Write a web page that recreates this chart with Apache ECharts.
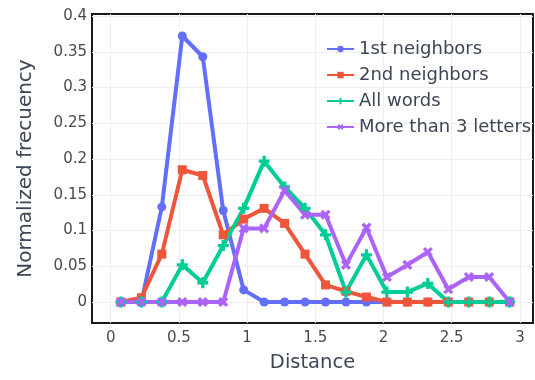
<!DOCTYPE html>
<html>
<head>
<meta charset="utf-8">
<script src="https://cdn.jsdelivr.net/npm/echarts@6/dist/echarts.min.js"></script>
<style>
  html, body { margin: 0; padding: 0; background: #fff; }
  #chart { width: 535px; height: 380px; }
</style>
</head>
<body>
<div id="chart"></div>
<script>
// Bin centres along the distance axis
const distance = [0.075, 0.225, 0.375, 0.525, 0.675, 0.825, 0.975, 1.125, 1.275, 1.425,
                  1.575, 1.725, 1.875, 2.025, 2.175, 2.325, 2.475, 2.625, 2.775, 2.925];

// Normalized frequency per bin
const firstNeighbors  = [0, 0, 0.133, 0.372, 0.343, 0.128, 0.017, 0, 0, 0,
                         0, 0, 0, 0, 0, 0, 0, 0, 0, 0];
const secondNeighbors = [0, 0.006, 0.067, 0.185, 0.177, 0.094, 0.116, 0.131, 0.110, 0.067,
                         0.024, 0.015, 0.007, 0, 0, 0, 0, 0, 0, 0];
const allWords        = [0, 0, 0, 0.052, 0.027, 0.079, 0.131, 0.197, 0.161, 0.131,
                         0.094, 0.014, 0.066, 0.014, 0.014, 0.026, 0, 0, 0, 0];
const moreThan3       = [0, 0, 0, 0, 0, 0, 0.103, 0.103, 0.156, 0.122,
                         0.122, 0.052, 0.104, 0.035, 0.052, 0.070, 0.018, 0.035, 0.035, 0];

const seriesNames = ['1st neighbors', '2nd neighbors', 'All words', 'More than 3 letters'];

// Axis tick labels
const xTicks = [0, 0.5, 1, 1.5, 2, 2.5, 3];
const yTicks = [0, 0.05, 0.1, 0.15, 0.2, 0.25, 0.3, 0.35, 0.4];

const plusPath = 'path://M3.5,0H6.5V3.5H10V6.5H6.5V10H3.5V6.5H0V3.5H3.5Z';

function pairs(values) {
  return values.map((v, i) => [distance[i], v]);
}

function lineSeries(name, values, color, symbol, size, rotate) {
  return {
    name: name,
    type: 'line',
    data: pairs(values),
    symbol: symbol,
    symbolSize: size,
    symbolRotate: rotate || 0,
    showAllSymbol: true,
    lineStyle: { width: 4, color: color },
    itemStyle: { color: color, borderWidth: 0 },
    emphasis: { disabled: true },
    animation: false
  };
}

const textColor = '#3c4656';
const tickColor = '#4a4a4a';
const fontFamily = 'DejaVu Sans, Verdana, sans-serif';

const chart = echarts.init(document.getElementById('chart'), null, { renderer: 'canvas' });
chart.setOption({
  backgroundColor: '#ffffff',
  animation: false,
  grid: {
    left: 92, top: 14, width: 441, height: 309,
    show: true, borderColor: '#1a1a1a', borderWidth: 2, backgroundColor: 'transparent'
  },
  legend: {
    data: seriesNames,
    orient: 'vertical',
    left: 326, top: 40,
    padding: 0,
    itemWidth: 27, itemHeight: 8, itemGap: 8,
    textStyle: { fontSize: 18, color: textColor, fontFamily: fontFamily, lineHeight: 18 }
  },
  xAxis: {
    type: 'value',
    min: -0.137, max: 3.096,
    name: 'Distance',
    nameLocation: 'middle',
    nameGap: 30,
    nameTextStyle: { fontSize: 19.5, color: textColor, fontFamily: fontFamily },
    axisLine: { show: false },
    axisTick: { show: false, customValues: xTicks },
    axisLabel: {
      customValues: xTicks,
      margin: 8,
      fontSize: 15, color: tickColor, fontFamily: fontFamily,
      formatter: v => String(v)
    },
    splitLine: { show: true, lineStyle: { color: '#eceef3', width: 1 } }
  },
  yAxis: {
    type: 'value',
    min: -0.0293, max: 0.4028,
    name: 'Normalized frecuency',
    nameLocation: 'middle',
    nameGap: 56,
    nameTextStyle: { fontSize: 20, color: textColor, fontFamily: fontFamily },
    axisLine: { show: false },
    axisTick: { show: false, customValues: yTicks },
    axisLabel: {
      customValues: yTicks,
      margin: 5,
      fontSize: 15, color: tickColor, fontFamily: fontFamily,
      formatter: v => String(+v.toFixed(2))
    },
    splitLine: { show: true, lineStyle: { color: '#eceef3', width: 1 } }
  },
  series: [
    lineSeries(seriesNames[0], firstNeighbors, '#636efa', 'circle', 9),
    lineSeries(seriesNames[1], secondNeighbors, '#ef553b', 'rect', 9),
    lineSeries(seriesNames[2], allWords, '#00cc96', plusPath, 11),
    lineSeries(seriesNames[3], moreThan3, '#ab63fa', plusPath, 11, 45)
  ]
});
</script>
</body>
</html>
